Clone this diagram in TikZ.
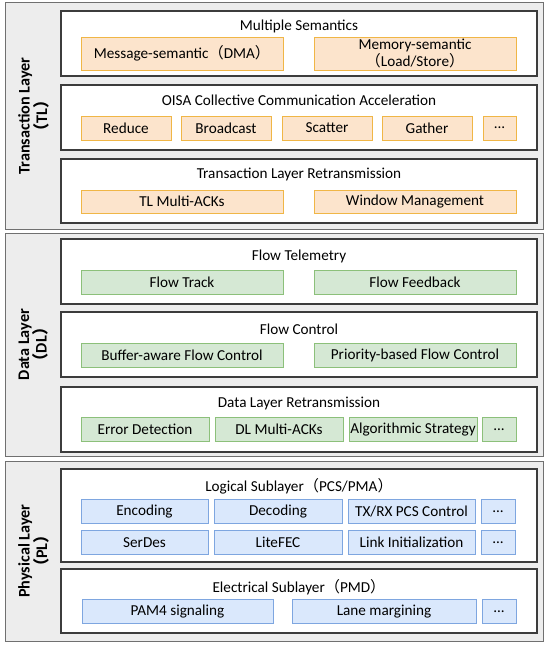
\documentclass[tikz,border=0pt]{standalone}
\usepackage{fontspec}
\setmainfont{Carlito}
\newfontfamily\cjk{Noto Sans CJK SC}
\usetikzlibrary{positioning}
\definecolor{layerFill}{RGB}{237,237,237}
\definecolor{layerEdge}{RGB}{112,112,112}
\definecolor{groupEdge}{RGB}{60,60,60}
\definecolor{tlFill}{RGB}{252,228,204}
\definecolor{tlEdge}{RGB}{240,182,70}
\definecolor{dlFill}{RGB}{213,232,212}
\definecolor{dlEdge}{RGB}{140,192,122}
\definecolor{plFill}{RGB}{218,232,252}
\definecolor{plEdge}{RGB}{126,166,224}
\newcommand{\lpar}{{\cjk （}}
\newcommand{\rpar}{{\cjk ）}}
\tikzset{
    layer/.style={
        draw=layerEdge, fill=layerFill, line width=1pt,
        minimum width=538pt, inner sep=0pt
    },
    group/.style={
        draw=groupEdge, fill=white, line width=1.1pt,
        minimum width=476pt, inner sep=0pt
    },
    title/.style={font=\fontsize{15.2}{17}\selectfont, inner sep=0pt},
    layertitle/.style={
        font=\bfseries\fontsize{16.2}{17.5}\selectfont,
        rotate=90, align=center, inner sep=0pt
    },
    item/.style={
        line width=0.8pt, inner sep=0pt, minimum height=24pt,
        font=\fontsize{15.2}{16.5}\selectfont, align=center
    },
    tlitem/.style={item, draw=tlEdge, fill=tlFill},
    dlitem/.style={item, draw=dlEdge, fill=dlFill},
    plitem/.style={item, draw=plEdge, fill=plFill}
}
\begin{document}
\begin{tikzpicture}[x=1pt, y=-1pt]
      \useasboundingbox (0,0) rectangle (550,647);
      \node[layer, minimum height=226pt] (TL) at (274,116) {};
      \node[layer, minimum height=223pt] (DL) at (274,344.5) {};
      \node[layer, minimum height=180pt] (PL) at (274,551) {};
      \node[layertitle] (TLname) at (33.5,116) {Transaction Layer\\\lpar TL\rpar};
      \node[layertitle] (DLname) at (33.5,344.5) {Data Layer\\\lpar DL\rpar};
      \node[layertitle] (PLname) at (33.5,551) {Physical Layer\\\lpar PL\rpar};
      \node[group, minimum height=65pt] (sem) at (299,43.5) {};
      \node[group, minimum height=65pt] (coll) at (299,117.5) {};
      \node[group, minimum height=64pt] (tlr) at (299,191) {};
      \node[title] (semT) at (299,26) {Multiple Semantics};
      \node[title] (collT) at (299,100) {OISA Collective Communication Acceleration};
      \node[title] (tlrT) at (299,174) {Transaction Layer Retransmission};
      \node[tlitem, minimum width=202pt, minimum height=33pt] (msg) at (182,53.5) {Message-semantic\lpar DMA\rpar};
      \node[tlitem, minimum width=202pt, minimum height=33pt] (mem) at (415,53.5) {Memory-semantic\\\lpar Load/Store\rpar};
      \node[tlitem, minimum width=90pt] (red) at (126,128) {Reduce};
      \node[tlitem, minimum width=90pt] (bcast) at (226,128) {Broadcast};
      \node[tlitem, minimum width=90pt] (scat) at (327,128) {Scatter};
      \node[tlitem, minimum width=90pt] (gath) at (427,128) {Gather};
      \node[tlitem, minimum width=33pt] (tlmore) at (499.5,128) {...};
      \node[tlitem, minimum width=202pt, minimum height=23pt] (tlack) at (182,201.5) {TL Multi-ACKs};
      \node[tlitem, minimum width=202pt, minimum height=23pt] (win) at (415,201.5) {Window Management};
      \node[group, minimum height=65pt] (ftel) at (299,271.5) {};
      \node[group, minimum height=65pt] (fctl) at (299,344.5) {};
      \node[group, minimum height=65pt] (dlr) at (299,419.5) {};
      \node[title] (ftelT) at (299,256) {Flow Telemetry};
      \node[title] (fctlT) at (299,329) {Flow Control};
      \node[title] (dlrT) at (299,403) {Data Layer Retransmission};
      \node[dlitem, minimum width=202pt] (ftrack) at (182,282) {Flow Track};
      \node[dlitem, minimum width=202pt] (ffb) at (415,282) {Flow Feedback};
      \node[dlitem, minimum width=202pt] (buf) at (182,355.5) {Buffer-aware Flow Control};
      \node[dlitem, minimum width=202pt] (prio) at (415,355.5) {Priority-based Flow Control};
      \node[dlitem, minimum width=128pt] (err) at (145,429.5) {Error Detection};
      \node[dlitem, minimum width=128pt] (dlack) at (279,429.5) {DL Multi-ACKs};
      \node[dlitem, minimum width=128pt] (algo) at (413,429.5) {Algorithmic Strategy};
      \node[dlitem, minimum width=34pt] (dlmore) at (499,429.5) {...};
      \node[group, minimum height=93pt] (lsub) at (299,515.5) {};
      \node[group, minimum height=64pt] (esub) at (299,601) {};
      \node[title] (lsubT) at (299,486) {Logical Sublayer\lpar PCS/PMA\rpar};
      \node[title] (esubT) at (299,587) {Electrical Sublayer\lpar PMD\rpar};
      \node[plitem, minimum width=127pt] (enc) at (144.5,511.5) {Encoding};
      \node[plitem, minimum width=128pt] (dec) at (278,511.5) {Decoding};
      \node[plitem, minimum width=127pt] (pcs) at (411.5,511.5) {TX/RX PCS Control};
      \node[plitem, minimum width=34pt] (plmoreA) at (498,511.5) {...};
      \node[plitem, minimum width=127pt] (serdes) at (144.5,542.5) {SerDes};
      \node[plitem, minimum width=128pt] (fec) at (278,542.5) {LiteFEC};
      \node[plitem, minimum width=127pt] (linit) at (411.5,542.5) {Link Initialization};
      \node[plitem, minimum width=34pt] (plmoreB) at (498,542.5) {...};
      \node[plitem, minimum width=191pt] (pam) at (177.5,611.5) {PAM4 signaling};
      \node[plitem, minimum width=184pt] (lane) at (384,611.5) {Lane margining};
      \node[plitem, minimum width=34pt] (plmoreC) at (499,611.5) {...};
    \end{tikzpicture}
\end{document}
